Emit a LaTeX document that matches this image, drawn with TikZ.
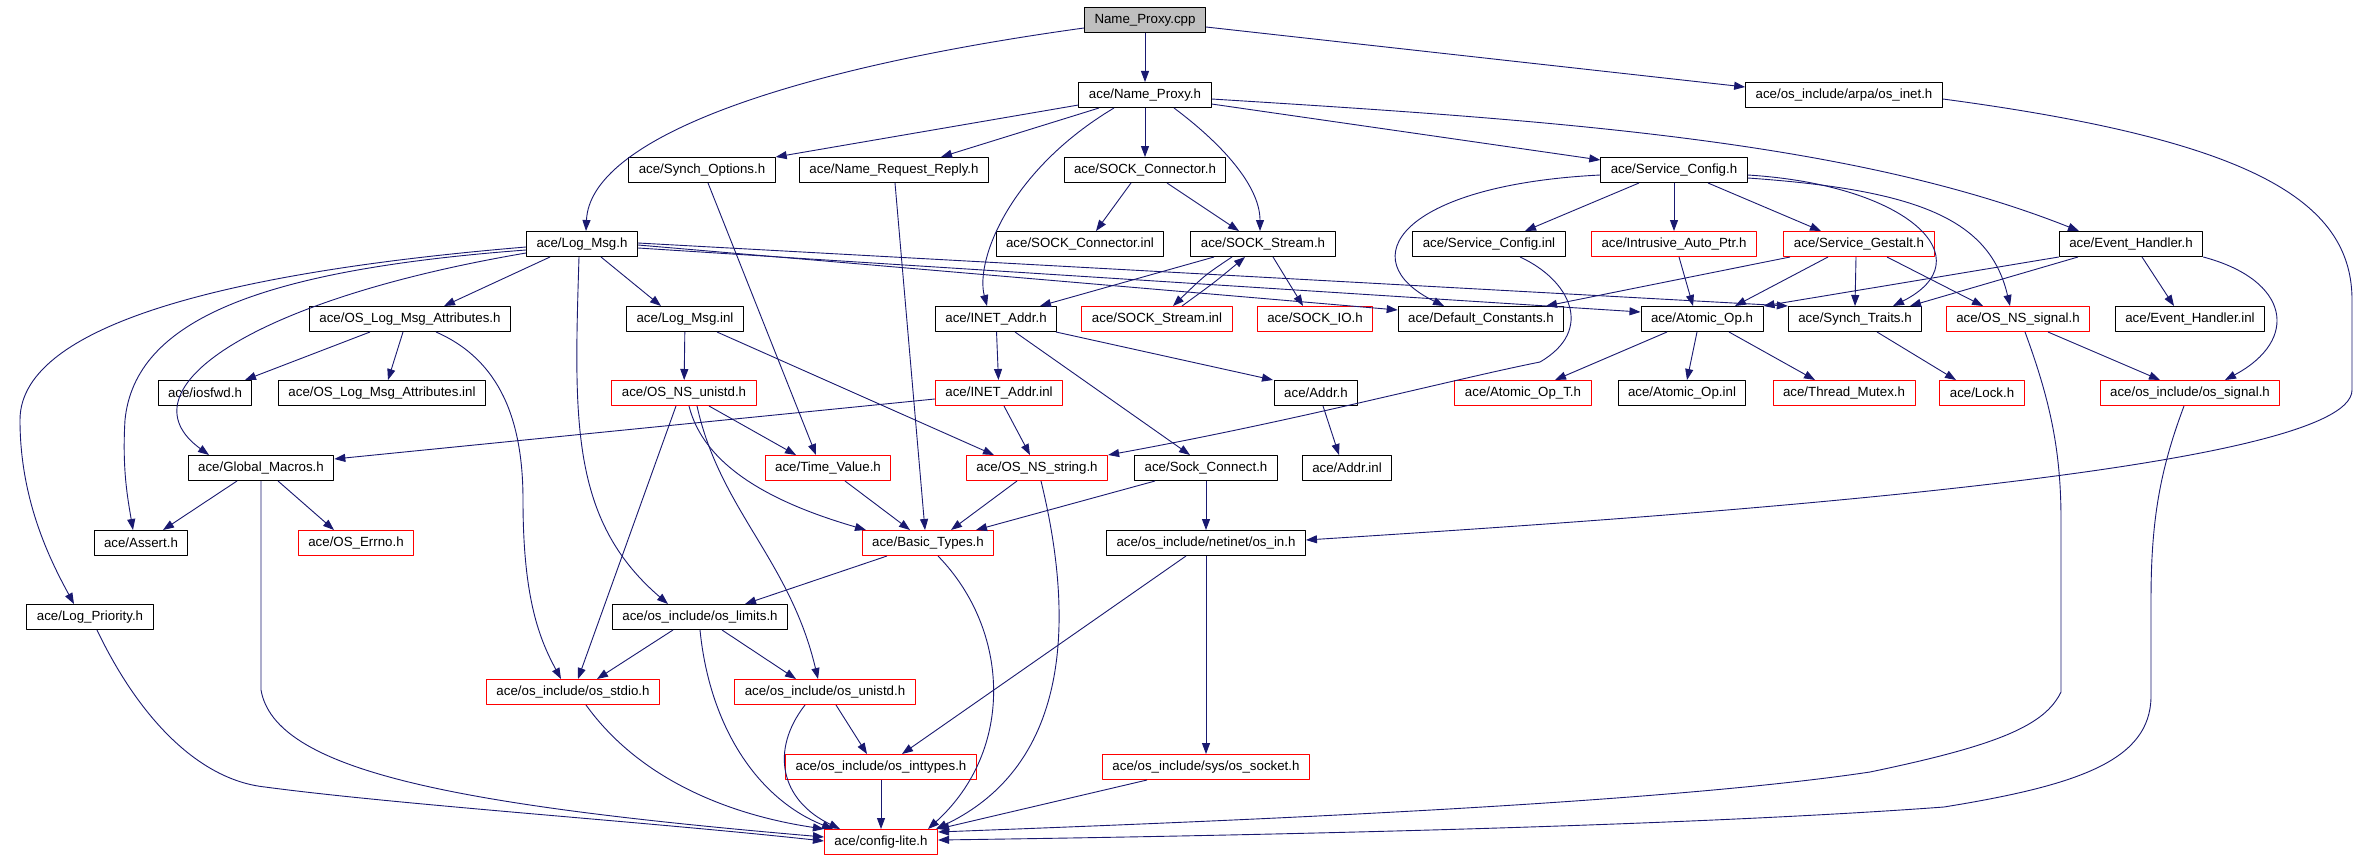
\documentclass[tikz,border=0pt]{standalone}
\usepackage{fontspec}
\setmainfont{Liberation Sans}
\usepackage{tikz}
\usetikzlibrary{arrows.meta}
\usepackage{xcolor}
\definecolor{midnightblue}{RGB}{25,25,112}
\definecolor{boxred}{RGB}{255,0,0}
\definecolor{rootgray}{RGB}{191,191,191}
\tikzset{blackfilenode/.style={rectangle, draw=black, fill=white, line width=1pt, minimum height=25pt, inner xsep=10pt, inner ysep=0pt, font=\fontsize{13.3}{15}\selectfont},redfilenode/.style={blackfilenode, draw=boxred},grayfilenode/.style={blackfilenode, fill=rootgray}}
\tikzset{includeedge/.style={draw=midnightblue, line width=0.9pt, -{Triangle[length=11pt, width=8pt]}}}

\begin{document}
\begin{tikzpicture}[
        x=1pt, y=-1pt,
        line join=bevel,
    ]
        \useasboundingbox (0,0) rectangle (2372,859);
        \fill[white] (0,0) rectangle (2372,859);
        % Files
        \node[grayfilenode] (cpp) at (1145,20) {Name\_Proxy.cpp};
        \node[blackfilenode] (nproxyh) at (1145,95) {ace/Name\_Proxy.h};
        \node[blackfilenode] (osinet) at (1844,95) {ace/os\_include/arpa/os\_inet.h};
        \node[blackfilenode] (synchopt) at (702,170) {ace/Synch\_Options.h};
        \node[blackfilenode] (nreqrep) at (894,170) {ace/Name\_Request\_Reply.h};
        \node[blackfilenode] (sockconn) at (1145,170) {ace/SOCK\_Connector.h};
        \node[blackfilenode] (svcconf) at (1674,170) {ace/Service\_Config.h};
        \node[blackfilenode] (logmsg) at (582,244) {ace/Log\_Msg.h};
        \node[blackfilenode] (sockconninl) at (1080,244) {ace/SOCK\_Connector.inl};
        \node[blackfilenode] (sockstream) at (1263,244) {ace/SOCK\_Stream.h};
        \node[blackfilenode] (svcconfinl) at (1489,244) {ace/Service\_Config.inl};
        \node[redfilenode] (intrusive) at (1674,244) {ace/Intrusive\_Auto\_Ptr.h};
        \node[redfilenode] (gestalt) at (1859,244) {ace/Service\_Gestalt.h};
        \node[blackfilenode] (evhandler) at (2131,244) {ace/Event\_Handler.h};
        \node[blackfilenode] (logattr) at (410,319) {ace/OS\_Log\_Msg\_Attributes.h};
        \node[blackfilenode] (logmsginl) at (685,319) {ace/Log\_Msg.inl};
        \node[blackfilenode] (inetaddr) at (996,319) {ace/INET\_Addr.h};
        \node[redfilenode] (sockstreaminl) at (1157,319) {ace/SOCK\_Stream.inl};
        \node[redfilenode] (sockio) at (1315,319) {ace/SOCK\_IO.h};
        \node[blackfilenode] (defconst) at (1481,319) {ace/Default\_Constants.h};
        \node[blackfilenode] (atomicop) at (1702,319) {ace/Atomic\_Op.h};
        \node[blackfilenode] (synchtraits) at (1855,319) {ace/Synch\_Traits.h};
        \node[redfilenode] (nssignal) at (2018,319) {ace/OS\_NS\_signal.h};
        \node[blackfilenode] (evhandlerinl) at (2190,319) {ace/Event\_Handler.inl};
        \node[blackfilenode] (iosfwd) at (205,393) {ace/iosfwd.h};
        \node[blackfilenode] (logattrinl) at (382,393) {ace/OS\_Log\_Msg\_Attributes.inl};
        \node[redfilenode] (nsunistd) at (684,393) {ace/OS\_NS\_unistd.h};
        \node[redfilenode] (inetaddrinl) at (999,393) {ace/INET\_Addr.inl};
        \node[blackfilenode] (addr) at (1316,393) {ace/Addr.h};
        \node[redfilenode] (atomicopt) at (1523,393) {ace/Atomic\_Op\_T.h};
        \node[blackfilenode] (atomicopinl) at (1682,393) {ace/Atomic\_Op.inl};
        \node[redfilenode] (threadmutex) at (1844,393) {ace/Thread\_Mutex.h};
        \node[redfilenode] (lock) at (1982,393) {ace/Lock.h};
        \node[redfilenode] (ossignal) at (2190,393) {ace/os\_include/os\_signal.h};
        \node[blackfilenode] (globalmacros) at (261,468) {ace/Global\_Macros.h};
        \node[redfilenode] (timevalue) at (828,468) {ace/Time\_Value.h};
        \node[redfilenode] (nsstring) at (1037,468) {ace/OS\_NS\_string.h};
        \node[blackfilenode] (sockconnect) at (1206,468) {ace/Sock\_Connect.h};
        \node[blackfilenode] (addrinl) at (1347,468) {ace/Addr.inl};
        \node[blackfilenode] (assert) at (141,543) {ace/Assert.h};
        \node[redfilenode] (oserrno) at (356,543) {ace/OS\_Errno.h};
        \node[redfilenode] (basictypes) at (928,543) {ace/Basic\_Types.h};
        \node[blackfilenode] (osin) at (1206,543) {ace/os\_include/netinet/os\_in.h};
        \node[blackfilenode] (logprio) at (90,617) {ace/Log\_Priority.h};
        \node[blackfilenode] (oslimits) at (700,617) {ace/os\_include/os\_limits.h};
        \node[redfilenode] (osstdio) at (573,692) {ace/os\_include/os\_stdio.h};
        \node[redfilenode] (osunistd) at (825,692) {ace/os\_include/os\_unistd.h};
        \node[redfilenode] (osinttypes) at (881,767) {ace/os\_include/os\_inttypes.h};
        \node[redfilenode] (ossocket) at (1206,767) {ace/os\_include/sys/os\_socket.h};
        \node[redfilenode] (config) at (881,842) {ace/config-lite.h};
        % Includes of Name_Proxy.cpp and ace/Name_Proxy.h
        \draw[includeedge] (cpp) -- (nproxyh);
        \draw[includeedge] ([yshift=-8pt]cpp.west) .. controls (780,70) and (590,140) .. ([xshift=4pt]logmsg.north);
        \draw[includeedge] ([yshift=-7pt]cpp.east) -- ([yshift=8pt]osinet.west);
        \draw[includeedge] ([yshift=-10pt]nproxyh.west) -- (synchopt.north east);
        \draw[includeedge] ([xshift=-46pt]nproxyh.south) -- ([xshift=47pt]nreqrep.north);
        \draw[includeedge] ([xshift=-31pt]nproxyh.south) .. controls (1010,170) and (975,260) .. ([xshift=-9pt]inetaddr.north);
        \draw[includeedge] (nproxyh) -- (sockconn);
        \draw[includeedge] ([xshift=29pt]nproxyh.south) .. controls (1230,150) and (1260,190) .. ([xshift=-3pt]sockstream.north);
        \draw[includeedge] ([yshift=-9pt]nproxyh.east) -- ([yshift=10pt]svcconf.west);
        \draw[includeedge] ([yshift=-4pt]nproxyh.east) .. controls (1550,120) and (1850,140) .. ([xshift=-52pt]evhandler.north);
        \draw[includeedge] ([yshift=-4pt]osinet.east) .. controls (2250,140) and (2352,200) .. (2352,300) -- (2352,390) .. controls (2352,470) and (1700,515) .. ([yshift=3pt]osin.east);
        % Second row
        \draw[includeedge] ([xshift=6pt]synchopt.south) -- ([xshift=-12pt]timevalue.north);
        \draw[includeedge] ([xshift=1pt]nreqrep.south) -- ([xshift=-3pt]basictypes.north);
        \draw[includeedge] ([xshift=-14pt]sockconn.south) -- ([xshift=16pt]sockconninl.north);
        \draw[includeedge] ([xshift=22pt]sockconn.south) -- ([xshift=-24pt]sockstream.north);
        \draw[includeedge] ([yshift=-5pt]svcconf.west) .. controls (1400,185) and (1350,260) .. ([xshift=-37pt]defconst.north);
        \draw[includeedge] ([xshift=-35pt]svcconf.south) -- ([xshift=36pt]svcconfinl.north);
        \draw[includeedge] (svcconf) -- (intrusive);
        \draw[includeedge] ([xshift=34pt]svcconf.south) -- ([xshift=-38pt]gestalt.north);
        \draw[includeedge] ([yshift=-5pt]svcconf.east) .. controls (1910,185) and (1985,260) .. ([xshift=38pt]synchtraits.north);
        \draw[includeedge] ([yshift=-8pt]svcconf.east) .. controls (1920,190) and (1990,220) .. ([xshift=-8pt]nssignal.north);
        % Third row
        \draw[includeedge] ([xshift=-49pt]sockstream.south) -- ([xshift=44pt]inetaddr.north);
        \draw[includeedge] ([xshift=-31pt]sockstream.south) .. controls (1205,275) .. ([xshift=16pt]sockstreaminl.north);
        \draw[includeedge] ([xshift=25pt]sockstreaminl.north) .. controls (1215,282) .. ([xshift=-18pt]sockstream.south);
        \draw[includeedge] ([xshift=10pt]sockstream.south) -- ([xshift=-12pt]sockio.north);
        \draw[includeedge] ([xshift=5pt]intrusive.south) -- ([xshift=-9pt]atomicop.north);
        \draw[includeedge] ([xshift=-69pt]gestalt.south) -- ([xshift=65pt]defconst.north);
        \draw[includeedge] ([xshift=-31pt]gestalt.south) -- ([xshift=33pt]atomicop.north);
        \draw[includeedge] ([xshift=-3pt]gestalt.south) -- (synchtraits.north);
        \draw[includeedge] ([xshift=28pt]gestalt.south) -- ([xshift=-35pt]nssignal.north);
        \draw[includeedge] (evhandler.south west) -- (atomicop.north east);
        \draw[includeedge] ([xshift=-53pt]evhandler.south) -- ([xshift=55pt]synchtraits.north);
        \draw[includeedge] ([xshift=11pt]evhandler.south) -- ([xshift=-16pt]evhandlerinl.north);
        \draw[includeedge] (evhandler.south east) .. controls (2290,280) and (2300,340) .. ([xshift=35pt]ossignal.north);
        \draw[includeedge] ([xshift=31pt]svcconfinl.south) .. controls (1570,280) and (1595,330) .. (1540,362) .. controls (1450,380) and (1300,420) .. (nsstring.north east);
        % Includes of ace/Log_Msg.h
        \draw[includeedge] ([xshift=-32pt]logmsg.south) -- ([xshift=34pt]logattr.north);
        \draw[includeedge] ([xshift=19pt]logmsg.south) -- ([xshift=-24pt]logmsginl.north);
        \draw[includeedge] ([xshift=-3pt]logmsg.south) .. controls (574,420) and (570,520) .. ([xshift=-32pt]oslimits.north);
        \draw[includeedge] ([yshift=-9pt]logmsg.west) .. controls (250,300) and (120,390) .. ([xshift=-52pt]globalmacros.north);
        \draw[includeedge] ([yshift=-6pt]logmsg.west) .. controls (260,270) and (135,320) .. (125,420) .. controls (122,470) and (128,500) .. ([xshift=-8pt]assert.north);
        \draw[includeedge] ([yshift=-3pt]logmsg.west) .. controls (250,270) and (20,320) .. (20,420) .. controls (20,500) and (50,560) .. ([xshift=-16pt]logprio.north);
        \draw[includeedge] ([yshift=-1pt]logmsg.east) -- ([yshift=9pt]defconst.west);
        \draw[includeedge] ([yshift=-4pt]logmsg.east) -- ([yshift=7pt]atomicop.west);
        \draw[includeedge] ([yshift=1pt]logmsg.east) -- (synchtraits.north west);
        % Fourth row
        \draw[includeedge] ([xshift=-40pt]logattr.south) -- ([xshift=40pt]iosfwd.north);
        \draw[includeedge] ([xshift=-7pt]logattr.south) -- ([xshift=6pt]logattrinl.north);
        \draw[includeedge] ([xshift=26pt]logattr.south) .. controls (500,360) and (523,420) .. (523,500) .. controls (523,600) and (540,640) .. ([xshift=-12pt]osstdio.north);
        \draw[includeedge] (logmsginl) -- (nsunistd);
        \draw[includeedge] ([xshift=32pt]logmsginl.south) -- ([xshift=-43pt]nsstring.north);
        \draw[includeedge] (inetaddr) -- (inetaddrinl);
        \draw[includeedge] ([xshift=60pt]inetaddr.south) -- ([xshift=-43pt]addr.north);
        \draw[includeedge] ([xshift=19pt]inetaddr.south) -- ([xshift=-16pt]sockconnect.north);
        \draw[includeedge] ([xshift=-35pt]atomicop.south) -- ([xshift=32pt]atomicopt.north);
        \draw[includeedge] ([xshift=-5pt]atomicop.south) -- ([xshift=5pt]atomicopinl.north);
        \draw[includeedge] ([xshift=27pt]atomicop.south) -- ([xshift=-29pt]threadmutex.north);
        \draw[includeedge] ([xshift=22pt]synchtraits.south) -- ([xshift=-26pt]lock.north);
        \draw[includeedge] ([xshift=30pt]nssignal.south) -- ([xshift=-30pt]ossignal.north);
        % Fifth row
        \draw[includeedge] ([xshift=25pt]nsunistd.south) -- ([xshift=-32pt]timevalue.north);
        \draw[includeedge] ([xshift=5pt]nsunistd.south) .. controls (705,470) and (780,505) .. ([xshift=-62pt]basictypes.north);
        \draw[includeedge] ([xshift=-8pt]nsunistd.south) -- ([xshift=5pt]osstdio.north);
        \draw[includeedge] ([xshift=13pt]nsunistd.south) .. controls (720,510) and (790,560) .. ([xshift=-7pt]osunistd.north);
        \draw[includeedge] ([yshift=-6pt]inetaddrinl.west) -- ([yshift=9pt]globalmacros.east);
        \draw[includeedge] ([xshift=5pt]inetaddrinl.south) -- ([xshift=-7pt]nsstring.north);
        \draw[includeedge] ([xshift=7pt]addr.south) -- ([xshift=-8pt]addrinl.north);
        \draw[includeedge] ([xshift=17pt]timevalue.south) -- ([xshift=-18pt]basictypes.north);
        \draw[includeedge] ([xshift=-20pt]nsstring.south) -- ([xshift=23pt]basictypes.north);
        \draw[includeedge] ([xshift=-51pt]sockconnect.south) -- ([xshift=48pt]basictypes.north);
        \draw[includeedge] (sockconnect) -- (osin);
        \draw[includeedge] ([xshift=-24pt]globalmacros.south) -- ([xshift=22pt]assert.north);
        \draw[includeedge] ([xshift=17pt]globalmacros.south) -- ([xshift=-22pt]oserrno.north);
        % Lower rows
        \draw[includeedge] ([xshift=-41pt]basictypes.south) -- ([xshift=45pt]oslimits.north);
        \draw[includeedge] ([xshift=-20pt]osin.south) -- ([xshift=21pt]osinttypes.north);
        \draw[includeedge] (osin) -- (ossocket);
        \draw[includeedge] ([xshift=-27pt]oslimits.south) -- ([xshift=24pt]osstdio.north);
        \draw[includeedge] ([xshift=22pt]oslimits.south) -- ([xshift=-29pt]osunistd.north);
        \draw[includeedge] ([xshift=11pt]osunistd.south) -- ([xshift=-14pt]osinttypes.north);
        % Into ace/config-lite.h
        \draw[includeedge] (globalmacros.south) -- (261,690) .. controls (275,770) and (450,805) .. ([yshift=5pt]config.west);
        \draw[includeedge] ([xshift=7pt]logprio.south) .. controls (140,720) and (200,780) .. (265,787) .. controls (400,805) and (650,822) .. ([yshift=1pt]config.west);
        \draw[includeedge] ([xshift=13pt]osstdio.south) .. controls (640,780) and (730,815) .. (config.north west);
        \draw[includeedge] (oslimits.south) .. controls (710,730) and (760,800) .. ([xshift=-48pt]config.north);
        \draw[includeedge] ([xshift=-20pt]osunistd.south) .. controls (770,750) and (780,800) .. ([xshift=-41pt]config.north);
        \draw[includeedge] (osinttypes) -- (config);
        \draw[includeedge] ([xshift=10pt]basictypes.south) .. controls (1010,630) and (1015,750) .. ([xshift=47pt]config.north);
        \draw[includeedge] ([xshift=4pt]nsstring.south) .. controls (1070,600) and (1080,760) .. ([xshift=55pt]config.north);
        \draw[includeedge] ([xshift=-59pt]ossocket.south) -- (config.north east);
        \draw[includeedge] ([xshift=7pt]nssignal.south) .. controls (2050,400) and (2061,450) .. (2061,520) -- (2061,692) .. controls (2045,725) and (2000,745) .. (1870,772) .. controls (1650,805) and (1200,822) .. ([yshift=10pt]config.east);
        \draw[includeedge] ([xshift=-6pt]ossignal.south) .. controls (2160,470) and (2151,520) .. (2151,600) -- (2151,697) .. controls (2150,760) and (2080,785) .. (1944,807) .. controls (1700,825) and (1300,835) .. ([yshift=2pt]config.east);
    \end{tikzpicture}
\end{document}
